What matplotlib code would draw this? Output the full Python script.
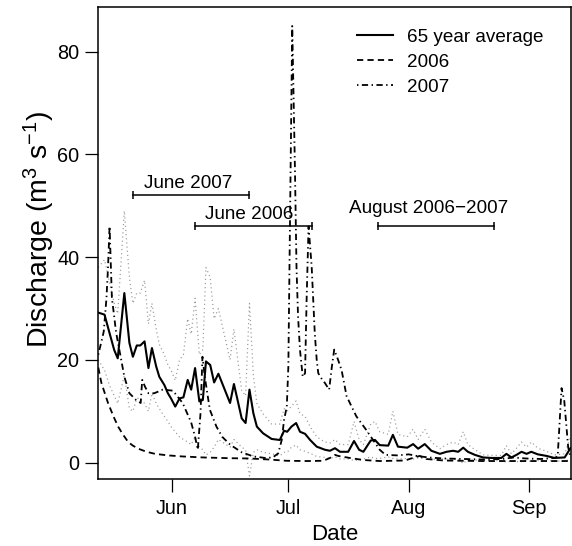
import matplotlib
matplotlib.use('Agg')
import matplotlib.pyplot as plt

plt.rcParams['font.family'] = ['Liberation Sans', 'DejaVu Sans']
plt.rcParams['mathtext.fontset'] = 'custom'
plt.rcParams['mathtext.rm'] = 'Liberation Sans'
plt.rcParams['mathtext.it'] = 'Liberation Sans:italic'
plt.rcParams['lines.scale_dashes'] = False

# ---- data (x = days since 1 June) ----
month_ticks = [0, 30, 61, 92]
month_labels = ['Jun', 'Jul', 'Aug', 'Sep']
y_ticks = [0, 20, 40, 60, 80]

mean_days = [-18.9, -17.3, -16.0, -14.8, -13.9, -12.2, -10.9, -10.0, -9.0, -8.1,
             -7.0, -6.0, -5.1, -4.0, -3.2, -1.9, -1.0, -0.2, 0.9, 2.0,
             3.0, 4.1, 5.0, 6.0, 7.1, 8.0, 8.8, 9.9, 10.9, 12.0,
             15.0, 16.0, 18.0, 19.0, 20.0, 21.0, 21.9, 23.5, 25.7, 27.8,
             28.9, 29.7, 30.8, 32.0, 33.0, 34.3, 35.6, 37.3, 39.4, 40.7,
             42.0, 43.3, 45.4, 46.9, 48.2, 49.3, 51.2, 52.3, 53.5, 55.7,
             56.9, 58.2, 60.6, 62.1, 63.4, 65.1, 66.8, 69.0, 70.7, 72.4,
             73.7, 75.0, 76.2, 78.0, 80.1, 82.3, 84.8, 86.1, 87.4, 88.7,
             90.0, 91.3, 92.5, 94.2, 96.4, 98.5, 101.1, 102.6]
mean_vals = [29.2, 28.8, 25.2, 21.9, 20.3, 33.0, 23.3, 20.6, 22.8, 22.8,
             23.6, 18.4, 22.3, 18.7, 16.7, 15.1, 13.5, 12.5, 10.9, 12.5,
             12.7, 16.1, 14.2, 18.4, 11.9, 12.2, 19.7, 19.0, 15.6, 17.3,
             11.6, 15.3, 8.6, 7.7, 14.2, 9.6, 7.0, 5.7, 4.6, 4.4,
             6.2, 6.0, 7.0, 7.7, 6.0, 5.6, 4.4, 3.1, 2.5, 2.3,
             2.8, 2.1, 2.1, 4.2, 2.5, 2.1, 4.3, 4.4, 3.4, 3.3,
             5.4, 3.1, 2.9, 3.6, 2.7, 3.6, 2.3, 1.7, 2.1, 2.3,
             2.1, 2.9, 2.1, 1.5, 1.0, 0.9, 0.9, 1.7, 1.0, 1.5,
             2.1, 1.7, 2.1, 1.6, 1.3, 0.9, 1.0, 2.8]
upper_vals = [38, 39.5, 35, 31, 29, 49, 36, 31, 33, 33,
              35.5, 27, 31, 26, 23, 21, 19, 18, 16, 20,
              21, 28, 25, 32, 21, 22, 38, 36, 28, 30,
              20, 26, 14, 13, 31, 17, 11.5, 9.5, 7.5, 7.5,
              10.5, 10, 11, 12, 9.5, 9, 7, 5, 4, 3.8,
              4.5, 3.5, 3.5, 8, 4.5, 3.5, 7.5, 8, 6, 5.5,
              10, 5.5, 5, 6.5, 4.5, 6.5, 4, 2.7, 3.5, 4,
              3.5, 6, 3.5, 2.5, 1.5, 1.4, 1.4, 3.3, 1.7, 2.8,
              4, 3, 4, 2.8, 2.2, 1.5, 1.7, 5]
lower_vals = [20, 18, 15, 13, 11.5, 17, 10.5, 10, 12.5, 12.5,
              11.5, 10, 13.5, 11.5, 10.5, 9, 8, 7, 6, 5,
              4.5, 4, 3.5, 5, 3, 2.5, 1.5, 2, 3, 4.5,
              3, 4.5, 3, 2.5, -2.6, 2, 2.5, 2, 1.7, 1.3,
              2, 2, 3, 3.4, 2.5, 2.2, 1.8, 1.2, 1, 0.8,
              1.1, 0.7, 0.7, 0.4, 0.5, 0.7, 1.1, 0.8, 0.8, 1.1,
              0.8, 0.7, 0.8, 0.7, 0.9, 0.7, 0.6, 0.7, 0.7, 0.6,
              0.7, -0.2, 0.7, 0.5, 0.5, 0.4, 0.4, 0.1, 0.3, 0.2,
              0.2, 0.4, 0.2, 0.4, 0.4, 0.3, 0.3, 0.6]

days_2006 = [-18.9, -18.1, -16.4, -15.0, -13.8, -12.5, -11.2, -10.0, -8.6, -6.5,
             -4.3, -1.0, 2.6, 8.0, 15.0, 20.0, 25.0, 29.5, 35.0, 39.0,
             40.7, 42.0, 42.8, 45.8, 49.3, 53.5, 60.0, 62.0, 63.8, 65.5,
             70.0, 80.0, 90.0, 95.0, 102.6]
vals_2006 = [18.5, 15.5, 11.6, 9.0, 7.0, 5.4, 4.0, 3.3, 2.7, 2.1,
             1.7, 1.4, 1.2, 1.0, 0.85, 0.8, 0.6, 0.35, 0.3, 0.35,
             0.9, 1.5, 1.3, 0.9, 0.5, 0.3, 0.4, 0.9, 1.3, 0.7,
             0.4, 0.3, 0.3, 0.3, 0.3]

days_2007 = [-18.9, -17.5, -16.8, -16.4, -16.0, -15.4, -14.8, -14.4, -14.0, -13.0,
             -12.2, -10.9, -9.2, -8.0, -7.6, -6.9, -6.0, -4.5, -2.3, 0.3,
             2.8, 5.0, 6.0, 6.7, 7.4, 7.9, 8.5, 9.8, 11.5, 13.0,
             15.0, 18.0, 21.0, 24.0, 26.0, 27.4, 28.3, 28.9, 29.6, 30.0,
             31.0, 31.7, 32.1, 32.5, 33.0, 33.7, 34.3, 34.7, 35.2, 36.0,
             36.4, 36.8, 37.3, 37.7, 38.5, 39.4, 40.5, 41.2, 41.8, 42.8,
             43.7, 45.0, 47.5, 50.0, 51.8, 53.5, 55.0, 58.0, 61.0, 63.0,
             66.0, 70.0, 75.0, 80.0, 85.0, 88.0, 91.0, 95.0, 98.5, 99.3,
             100.3, 101.0, 102.0, 102.6]
vals_2007 = [21, 25.5, 32, 38, 46, 32, 28.4, 25.8, 24, 20,
             16.7, 13.5, 12.2, 11.6, 16.1, 14.8, 13.5, 13.5, 14.2, 14,
             11.6, 7.8, 5.0, 2.5, 9.6, 20.6, 16.7, 10.3, 7, 5,
             3.5, 2, 1.2, 0.9, 1.0, 1.8, 4.4, 8.3, 10.9, 18.7,
             85, 57, 38, 28.4, 21.9, 16.7, 17.4, 31.7, 46, 38.2,
             31.7, 25.2, 20, 17.4, 16.4, 15.5, 14.2, 18.7, 22, 20,
             18, 12.9, 9, 6.4, 4.4, 2.5, 1.5, 1.4, 1.6, 1.3,
             1.0, 0.8, 0.7, 0.6, 0.7, 1.0, 0.8, 0.7, 0.9, 1.2,
             14.5, 12, 3, 1]

bar_labels = ['June 2007', 'June 2006', 'August 2006\u22122007']
bar_starts = [-10, 6, 53]
bar_ends = [20, 36, 83]
bar_levels = [52, 46, 46]

# ---- figure ----
W, H = 572, 546
fig = plt.figure(figsize=(W / 100, H / 100), dpi=100)
ax_l, ax_r, ax_t, ax_b = 98.3, 570.5, 7.0, 478.5
ax = fig.add_axes([ax_l / W, 1 - ax_b / H, (ax_r - ax_l) / W, (ax_b - ax_t) / H])

dot_style = dict(color='#999999', lw=0.9, linestyle=(0, (0.8, 2.2)))
ax.plot(mean_days, upper_vals, **dot_style)
ax.plot(mean_days, lower_vals, **dot_style)
ax.plot(days_2006, vals_2006, color='black', lw=1.3, linestyle=(0, (4.5, 3.0)), label='2006')
ax.plot(days_2007, vals_2007, color='black', lw=1.3, linestyle=(0, (1.0, 2.5, 4.5, 2.5)), label='2007')
ax.plot(mean_days, mean_vals, color='black', lw=1.5, label='65 year average')

label_x = [4.1, 19.9, 66.2]
label_y = [53.4, 47.4, 48.6]
for lab, s, e, lvl, lx, ly in zip(bar_labels, bar_starts, bar_ends, bar_levels, label_x, label_y):
    ax.plot([s, e], [lvl, lvl], color='black', lw=1.1)
    ax.plot([s, e], [lvl, lvl], linestyle='none', marker='|', markersize=6,
            markeredgewidth=1.1, color='black')
    ax.text(lx, ly, lab, ha='center', va='baseline', fontsize=13.6)

handles, labels = ax.get_legend_handles_labels()
order = [2, 0, 1]
ax.legend([handles[i] for i in order], [labels[i] for i in order],
          loc='upper left',
          bbox_to_anchor=((357 - ax_l) / (ax_r - ax_l), (ax_b - 28.5) / (ax_b - ax_t)),
          frameon=False, fontsize=13.6, handlelength=1.9, handletextpad=0.74,
          labelspacing=0.42, borderaxespad=0, borderpad=0)

ax.set_xlim(-18.9, 102.6)
ax.set_ylim(-3.1, 88.7)
ax.set_xticks(month_ticks)
ax.set_xticklabels(month_labels)
ax.set_yticks(y_ticks)
ax.tick_params(axis='both', direction='out', length=9.5, width=0.9, labelsize=14.3)
ax.tick_params(axis='x', pad=5.5)
ax.tick_params(axis='y', pad=4.3)
for sp in ax.spines.values():
    sp.set_linewidth(1.1)

fig.text(((ax_l + ax_r) / 2) / W, 1 - 540.0 / H, 'Date', ha='center', va='baseline', fontsize=16)
fig.text(48.0 / W, 1 - 229.0 / H, 'Discharge (m$^3$ s$^{-1}$)',
         rotation=90, rotation_mode='anchor', ha='center', va='baseline', fontsize=20.5)

fig.savefig('out.png', dpi=100)
